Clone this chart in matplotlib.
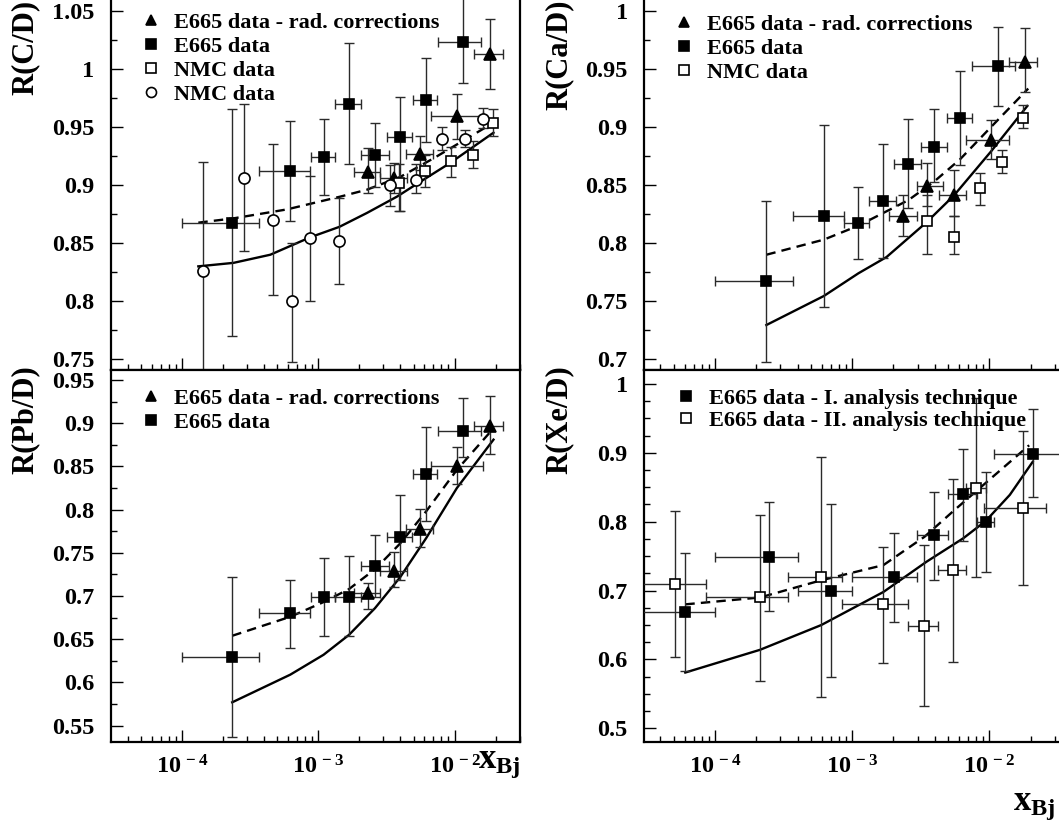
import numpy as np
import matplotlib
matplotlib.use("Agg")
import matplotlib.pyplot as plt
from matplotlib.ticker import LogLocator, FuncFormatter, MultipleLocator, NullFormatter

plt.rcParams['font.family'] = ['Liberation Serif', 'DejaVu Serif']
plt.rcParams['font.weight'] = 'bold'
plt.rcParams['mathtext.fontset'] = 'custom'
plt.rcParams['mathtext.rm'] = 'Liberation Serif:bold'
plt.rcParams['mathtext.it'] = 'Liberation Serif:bold'
plt.rcParams['mathtext.bf'] = 'Liberation Serif:bold'

# ---------------- C / D ----------------
c_e665_x = [2.34e-4, 6.24e-4, 1.094e-3, 1.68e-3, 2.61e-3, 4.0e-3, 6.19e-3, 1.153e-2]
c_e665_y = [0.867, 0.912, 0.924, 0.970, 0.926, 0.941, 0.973, 1.023]
c_e665_yhi = [0.965, 0.955, 0.957, 1.022, 0.953, 0.976, 1.009, 1.065]
c_e665_ylo = [0.770, 0.869, 0.891, 0.918, 0.898, 0.878, 0.937, 0.988]
c_e665_xlo = [1.0e-4, 3.69e-4, 8.83e-4, 1.33e-3, 2.06e-3, 3.19e-3, 4.92e-3, 7.52e-3]
c_e665_xhi = [3.65e-4, 8.73e-4, 1.32e-3, 2.07e-3, 3.28e-3, 4.86e-3, 7.43e-3, 1.57e-2]

c_rad_x = [2.33e-3, 3.61e-3, 5.60e-3, 1.04e-2, 1.81e-2]
c_rad_y = [0.9115, 0.906, 0.927, 0.959, 1.013]
c_rad_yhi = [0.932, 0.919, 0.942, 0.978, 1.043]
c_rad_ylo = [0.893, 0.893, 0.913, 0.940, 0.983]
c_rad_xlo = [1.84e-3, 2.85e-3, 4.43e-3, 6.75e-3, 1.38e-2]
c_rad_xhi = [2.85e-3, 4.47e-3, 6.95e-3, 1.63e-2, 2.26e-2]

c_nmc_sq_x = [3.88e-3, 6.1e-3, 9.46e-3, 1.37e-2, 1.91e-2]
c_nmc_sq_y = [0.902, 0.912, 0.921, 0.926, 0.953]
c_nmc_sq_yhi = [0.918, 0.926, 0.933, 0.938, 0.965]
c_nmc_sq_ylo = [0.878, 0.898, 0.907, 0.915, 0.942]

c_nmc_ci_x = [1.42e-4, 2.86e-4, 4.62e-4, 6.41e-4, 8.63e-4, 1.43e-3, 3.34e-3, 5.24e-3, 8.13e-3, 1.19e-2, 1.63e-2]
c_nmc_ci_y = [0.826, 0.906, 0.870, 0.800, 0.854, 0.852, 0.900, 0.904, 0.940, 0.940, 0.957]
c_nmc_ci_yhi = [0.920, 0.970, 0.935, 0.850, 0.908, 0.889, 0.917, 0.918, 0.950, 0.947, 0.966]
c_nmc_ci_ylo = [0.720, 0.843, 0.805, 0.748, 0.800, 0.815, 0.882, 0.893, 0.930, 0.933, 0.949]

c_solid_x = [1.32e-4, 2.39e-4, 4.45e-4, 8.73e-4, 1.43e-3, 2.28e-3, 3.78e-3, 5.30e-3, 9.29e-3, 1.93e-2]
c_solid_y = [0.830, 0.833, 0.840, 0.855, 0.864, 0.876, 0.890, 0.901, 0.919, 0.945]
c_dash_x = [1.32e-4, 2.39e-4, 5.89e-4, 1.45e-3, 2.28e-3, 4.0e-3, 7.02e-3, 1.83e-2]
c_dash_y = [0.8676, 0.8713, 0.879, 0.890, 0.896, 0.907, 0.923, 0.952]

# ---------------- Ca / D ----------------
ca_e665_x = [2.37e-4, 6.22e-4, 1.11e-3, 1.69e-3, 2.57e-3, 3.96e-3, 6.1e-3, 1.15e-2]
ca_e665_y = [0.767, 0.823, 0.817, 0.836, 0.868, 0.883, 0.908, 0.952]
ca_e665_yhi = [0.8365, 0.902, 0.8485, 0.885, 0.907, 0.915, 0.948, 0.986]
ca_e665_ylo = [0.698, 0.745, 0.786, 0.787, 0.8305, 0.853, 0.867, 0.918]
ca_e665_xlo = [1.0e-4, 3.72e-4, 8.75e-4, 1.32e-3, 2.02e-3, 3.16e-3, 4.89e-3, 7.43e-3]
ca_e665_xhi = [3.72e-4, 8.75e-4, 1.32e-3, 2.08e-3, 3.16e-3, 4.89e-3, 7.43e-3, 1.54e-2]

ca_rad_x = [2.36e-3, 3.52e-3, 5.52e-3, 1.03e-2, 1.82e-2]
ca_rad_y = [0.823, 0.849, 0.841, 0.889, 0.956]
ca_rad_yhi = [0.841, 0.869, 0.863, 0.906, 0.985]
ca_rad_ylo = [0.806, 0.832, 0.823, 0.872, 0.930]
ca_rad_xlo = [1.85e-3, 2.95e-3, 4.32e-3, 6.71e-3, 1.39e-2]
ca_rad_xhi = [2.95e-3, 4.57e-3, 6.71e-3, 1.39e-2, 2.21e-2]

ca_nmc_x = [3.49e-3, 5.52e-3, 8.55e-3, 1.24e-2, 1.75e-2]
ca_nmc_y = [0.819, 0.805, 0.847, 0.870, 0.908]
ca_nmc_yhi = [0.841, 0.823, 0.860, 0.880, 0.919]
ca_nmc_ylo = [0.7905, 0.7905, 0.833, 0.860, 0.899]

ca_solid_x = [2.37e-4, 6.22e-4, 1.11e-3, 1.78e-3, 3.49e-3, 5.52e-3, 1.03e-2, 1.89e-2]
ca_solid_y = [0.7295, 0.7545, 0.774, 0.788, 0.818, 0.841, 0.879, 0.918]
ca_dash_x = [2.37e-4, 6.22e-4, 1.11e-3, 1.69e-3, 2.57e-3, 3.96e-3, 6.1e-3, 1.03e-2, 1.92e-2]
ca_dash_y = [0.790, 0.803, 0.815, 0.826, 0.837, 0.853, 0.872, 0.900, 0.933]

# ---------------- Pb / D ----------------
pb_e665_x = [2.34e-4, 6.24e-4, 1.094e-3, 1.68e-3, 2.61e-3, 4.0e-3, 6.19e-3, 1.153e-2]
pb_e665_y = [0.629, 0.680, 0.699, 0.699, 0.735, 0.768, 0.841, 0.891]
pb_e665_yhi = [0.722, 0.719, 0.744, 0.746, 0.771, 0.817, 0.896, 0.929]
pb_e665_ylo = [0.537, 0.640, 0.654, 0.654, 0.699, 0.719, 0.787, 0.861]
pb_e665_xlo = [1.0e-4, 3.69e-4, 8.83e-4, 1.33e-3, 2.06e-3, 3.19e-3, 4.92e-3, 7.52e-3]
pb_e665_xhi = [3.65e-4, 8.73e-4, 1.32e-3, 2.07e-3, 3.28e-3, 4.86e-3, 7.43e-3, 1.57e-2]

pb_rad_x = [2.33e-3, 3.61e-3, 5.60e-3, 1.04e-2, 1.81e-2]
pb_rad_y = [0.703, 0.729, 0.778, 0.850, 0.897]
pb_rad_yhi = [0.715, 0.751, 0.801, 0.872, 0.931]
pb_rad_ylo = [0.685, 0.711, 0.757, 0.830, 0.864]
pb_rad_xlo = [1.84e-3, 2.85e-3, 4.43e-3, 6.75e-3, 1.38e-2]
pb_rad_xhi = [2.85e-3, 4.47e-3, 6.95e-3, 1.63e-2, 2.26e-2]

pb_solid_x = [2.34e-4, 6.24e-4, 1.094e-3, 1.68e-3, 2.61e-3, 4.0e-3, 6.19e-3, 1.04e-2, 1.93e-2]
pb_solid_y = [0.577, 0.609, 0.632, 0.655, 0.686, 0.722, 0.767, 0.825, 0.881]
pb_dash_x = [2.34e-4, 6.24e-4, 1.094e-3, 1.68e-3, 2.61e-3, 4.0e-3, 6.19e-3, 1.04e-2, 1.83e-2]
pb_dash_y = [0.654, 0.676, 0.693, 0.708, 0.731, 0.761, 0.798, 0.846, 0.890]

# ---------------- Xe / D ----------------
xe_t1_x = [6.08e-5, 2.49e-4, 6.97e-4, 2.03e-3, 3.94e-3, 6.38e-3, 9.4e-3, 2.07e-2]
xe_t1_y = [0.669, 0.749, 0.699, 0.719, 0.780, 0.840, 0.799, 0.899]
xe_t1_yhi = [0.755, 0.828, 0.825, 0.783, 0.843, 0.906, 0.872, 0.963]
xe_t1_ylo = [0.583, 0.671, 0.574, 0.655, 0.715, 0.7725, 0.7275, 0.8355]
xe_t1_xlo = [2.5e-5, 1.0e-4, 4.01e-4, 1.0e-3, 2.95e-3, 4.97e-3, 8.07e-3, 1.09e-2]
xe_t1_xhi = [1.0e-4, 4.01e-4, 1.0e-3, 2.95e-3, 4.97e-3, 8.07e-3, 1.09e-2, 4.0e-2]

xe_t2_x = [5.14e-5, 2.13e-4, 5.96e-4, 1.69e-3, 3.36e-3, 5.43e-3, 7.98e-3, 1.77e-2]
xe_t2_y = [0.709, 0.690, 0.719, 0.680, 0.649, 0.730, 0.849, 0.8195]
xe_t2_yhi = [0.816, 0.810, 0.8945, 0.764, 0.766, 0.862, 0.979, 0.931]
xe_t2_ylo = [0.604, 0.569, 0.545, 0.595, 0.532, 0.597, 0.719, 0.708]
xe_t2_xlo = [2.5e-5, 8.55e-5, 3.42e-4, 8.47e-4, 2.54e-3, 4.25e-3, 6.75e-3, 9.12e-3]
xe_t2_xhi = [8.55e-5, 3.42e-4, 8.47e-4, 2.54e-3, 4.25e-3, 6.75e-3, 9.44e-3, 2.59e-2]

xe_solid_x = [6.08e-5, 2.13e-4, 5.96e-4, 1.69e-3, 3.49e-3, 6.46e-3, 9.4e-3, 1.41e-2, 2.07e-2]
xe_solid_y = [0.581, 0.614, 0.650, 0.698, 0.742, 0.776, 0.801, 0.839, 0.887]
xe_dash_x = [6.08e-5, 2.13e-4, 5.96e-4, 1.69e-3, 3.36e-3, 5.43e-3, 7.98e-3, 1.95e-2]
xe_dash_y = [0.680, 0.690, 0.715, 0.737, 0.778, 0.815, 0.844, 0.911]


def series(ax, x, y, ylo, yhi, marker, filled, label, xlo=None, xhi=None, ms=8):
    x = np.array(x); y = np.array(y)
    yerr = [y - np.array(ylo), np.array(yhi) - y]
    xerr = None
    if xlo is not None:
        xerr = [x - np.array(xlo), np.array(xhi) - x]
    ax.errorbar(x, y, yerr=yerr, xerr=xerr, fmt='none', ecolor='#2a2a2a',
                elinewidth=1.0, capsize=3.6, capthick=1.0, zorder=3)
    ax.plot(x, y, ls='none', marker=marker, ms=ms, mfc='black' if filled else 'white',
            mec='black', mew=1.2, label=label, zorder=4)


def curves(ax, sx, sy, dx, dy):
    ax.plot(sx, sy, '-', color='black', lw=1.7, zorder=2)
    ax.plot(dx, dy, '--', color='black', lw=1.7, dashes=(4, 2.6), zorder=2)


def xfmt(v, pos):
    e = int(round(np.log10(v)))
    return r'$10^{\,%d}$' % e


def style(ax, xlim, ylim, show_xlabels):
    ax.set_xscale('log')
    ax.set_xlim(*xlim)
    ax.set_ylim(*ylim)
    ax.xaxis.set_major_locator(LogLocator(base=10, numticks=12))
    ax.xaxis.set_minor_locator(LogLocator(base=10, subs=np.arange(2, 10), numticks=12))
    ax.xaxis.set_minor_formatter(NullFormatter())
    if show_xlabels:
        ax.xaxis.set_major_formatter(FuncFormatter(xfmt))
    else:
        ax.xaxis.set_major_formatter(NullFormatter())
    ax.yaxis.set_minor_locator(MultipleLocator(0.025))
    ax.yaxis.set_major_formatter(FuncFormatter(lambda v, p: '%g' % round(v, 3)))
    ax.tick_params(which='both', direction='in', top=False, right=False, width=1.0)
    ax.tick_params(which='major', length=8.5)
    ax.tick_params(which='minor', length=4.5)
    ax.tick_params(axis='y', labelsize=17.5, pad=12)
    ax.tick_params(axis='x', labelsize=17.5, pad=9)
    for s in ax.spines.values():
        s.set_linewidth(1.6)


fig = plt.figure(figsize=(10.59, 8.21), dpi=100)
W, H = 1059.0, 821.0

def axes_px(x0, top, w, h):
    return fig.add_axes([x0 / W, 1 - (top + h) / H, w / W, h / H])

ax_c = axes_px(111, -2.3, 409, 372.3)
ax_ca = axes_px(644.3, -2.3, 420, 372.3)
ax_pb = axes_px(111, 370, 409, 372.3)
ax_xe = axes_px(644.3, 370, 420, 372.3)

xl_left = (10 ** -4.52, 10 ** -1.52)
xl_right = (10 ** -4.515, 10 ** (-4.515 + 420 / 137.2))

# C/D
curves(ax_c, c_solid_x, c_solid_y, c_dash_x, c_dash_y)
series(ax_c, c_rad_x, c_rad_y, c_rad_ylo, c_rad_yhi, '^', True, 'E665 data - rad. corrections', c_rad_xlo, c_rad_xhi)
series(ax_c, c_e665_x, c_e665_y, c_e665_ylo, c_e665_yhi, 's', True, 'E665 data', c_e665_xlo, c_e665_xhi, ms=7.5)
series(ax_c, c_nmc_sq_x, c_nmc_sq_y, c_nmc_sq_ylo, c_nmc_sq_yhi, 's', False, 'NMC data', ms=7.5)
series(ax_c, c_nmc_ci_x, c_nmc_ci_y, c_nmc_ci_ylo, c_nmc_ci_yhi, 'o', False, 'NMC data')
style(ax_c, xl_left, (0.7408, 1.0612), False)
ax_c.yaxis.set_major_locator(MultipleLocator(0.05))

# Ca/D
curves(ax_ca, ca_solid_x, ca_solid_y, ca_dash_x, ca_dash_y)
series(ax_ca, ca_rad_x, ca_rad_y, ca_rad_ylo, ca_rad_yhi, '^', True, 'E665 data - rad. corrections', ca_rad_xlo, ca_rad_xhi)
series(ax_ca, ca_e665_x, ca_e665_y, ca_e665_ylo, ca_e665_yhi, 's', True, 'E665 data', ca_e665_xlo, ca_e665_xhi, ms=7.5)
series(ax_ca, ca_nmc_x, ca_nmc_y, ca_nmc_ylo, ca_nmc_yhi, 's', False, 'NMC data', ms=7.5)
style(ax_ca, xl_right, (0.6908, 1.0112), False)
ax_ca.yaxis.set_major_locator(MultipleLocator(0.05))

# Pb/D
curves(ax_pb, pb_solid_x, pb_solid_y, pb_dash_x, pb_dash_y)
series(ax_pb, pb_rad_x, pb_rad_y, pb_rad_ylo, pb_rad_yhi, '^', True, 'E665 data - rad. corrections', pb_rad_xlo, pb_rad_xhi)
series(ax_pb, pb_e665_x, pb_e665_y, pb_e665_ylo, pb_e665_yhi, 's', True, 'E665 data', pb_e665_xlo, pb_e665_xhi, ms=7.5)
style(ax_pb, xl_left, (0.5307, 0.9616), True)
ax_pb.yaxis.set_major_locator(MultipleLocator(0.05))

# Xe/D
curves(ax_xe, xe_solid_x, xe_solid_y, xe_dash_x, xe_dash_y)
series(ax_xe, xe_t1_x, xe_t1_y, xe_t1_ylo, xe_t1_yhi, 's', True, 'E665 data - I. analysis technique', xe_t1_xlo, xe_t1_xhi, ms=7.5)
series(ax_xe, xe_t2_x, xe_t2_y, xe_t2_ylo, xe_t2_yhi, 's', False, 'E665 data - II. analysis technique', xe_t2_xlo, xe_t2_xhi, ms=7.5)
style(ax_xe, xl_right, (0.4797, 1.0203), True)
ax_xe.yaxis.set_major_locator(MultipleLocator(0.1))

for ax, anchor, sp in [(ax_c, (0.075, 0.960), 0.15), (ax_ca, (0.073, 0.955), 0.15),
                       (ax_pb, (0.075, 0.950), 0.15), (ax_xe, (0.077, 0.950), 0.05)]:
    ax.legend(loc='upper left', bbox_to_anchor=anchor, frameon=False, fontsize=16,
              handlelength=0.8, handletextpad=0.65, labelspacing=sp,
              borderpad=0, borderaxespad=0, markerscale=0.9)

# axis titles
fig.text(25 / W, 1.0, 'R(C/D)', rotation=90, ha='center', va='top', fontsize=22)
fig.text(558.7 / W, 1.0, 'R(Ca/D)', rotation=90, ha='center', va='top', fontsize=22)
fig.text(25 / W, 1 - 365 / H, 'R(Pb/D)', rotation=90, ha='center', va='top', fontsize=22)
fig.text(558.7 / W, 1 - 365 / H, 'R(Xe/D)', rotation=90, ha='center', va='top', fontsize=22)
fig.text(499 / W, 1 - 763 / H, r'$x_{Bj}$', ha='center', va='center', fontsize=25)
fig.text(1034 / W, 1 - 805 / H, r'$x_{Bj}$', ha='center', va='center', fontsize=25)

fig.savefig('out.png', dpi=100, facecolor='white')
